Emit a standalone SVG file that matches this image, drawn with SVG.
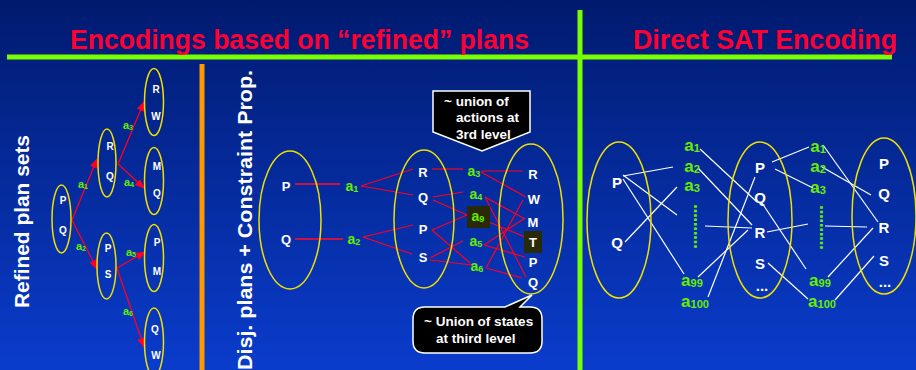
<svg xmlns="http://www.w3.org/2000/svg" width="916" height="370" viewBox="0 0 916 370">
<defs>
<linearGradient id="bg" x1="0" y1="0" x2="0" y2="1">
<stop offset="0" stop-color="#001a6e"/>
<stop offset="1" stop-color="#0a3ccc"/>
</linearGradient>
<marker id="ah" markerWidth="10" markerHeight="8" refX="9" refY="4" orient="auto" markerUnits="userSpaceOnUse">
<path d="M0,0 L10,4 L0,8 z" fill="#ff0022"/>
</marker>
<style>
text{font-family:"Liberation Sans",Arial,sans-serif;font-weight:bold}
.title{fill:#ff0033;font-size:27px}
.rot{fill:#ffffff;font-size:20px}
.ell{fill:none;stroke:#f0e000;stroke-width:1.5}
.n{fill:#ffffff;font-size:10px;text-anchor:middle;dominant-baseline:central}
.n2{fill:#ffffff;font-size:13px;text-anchor:middle;dominant-baseline:central}
.n3{fill:#ffffff;font-size:15px;text-anchor:middle;dominant-baseline:central}
.g{fill:#66ee00;font-size:11px;text-anchor:middle;dominant-baseline:central}
.g2{fill:#66ee00;font-size:14px;text-anchor:middle;dominant-baseline:central}
.g3{fill:#66ee00;font-size:17px;text-anchor:middle;dominant-baseline:central}
.dots{fill:#66ee00;font-size:18px}
.sub{font-size:0.65em}
.arr{stroke:#ff0022;stroke-width:1.3;fill:none;marker-end:url(#ah)}
.r{stroke:#ff0022;stroke-width:1.2;fill:none}
.rd{stroke:#cc1144;stroke-width:2;fill:none}
.w{stroke:#ffffff;stroke-width:1.2;fill:none}
.call{fill:#000000;stroke:#ffffff;stroke-width:1.5}
.ct{fill:#ffffff;font-size:13.5px}
</style>
</defs>
<rect x="0" y="0" width="916" height="370" fill="url(#bg)"/>

<g id="frame">
<line x1="7" y1="57" x2="892" y2="57" stroke="#77ff00" stroke-width="5"/>
<line x1="580" y1="10" x2="580" y2="370" stroke="#77ff00" stroke-width="5"/>
<line x1="202" y1="64" x2="202" y2="370" stroke="#ff9900" stroke-width="5"/>
<text class="title" x="70" y="49" textLength="459" lengthAdjust="spacingAndGlyphs">Encodings based on “refined” plans</text>
<text class="title" x="633" y="49" textLength="264" lengthAdjust="spacingAndGlyphs">Direct SAT Encoding</text>
<text class="rot" transform="translate(29,308) rotate(-90)" textLength="173" lengthAdjust="spacingAndGlyphs">Refined plan sets</text>
<text class="rot" transform="translate(252,370) rotate(-90)" textLength="300" lengthAdjust="spacingAndGlyphs">Disj.  plans + Constraint Prop.</text>
</g>

<!-- Left tree -->
<g id="connectors-tree">
<line class="arr" x1="72" y1="220" x2="97" y2="159"/>
<line class="arr" x1="72" y1="220" x2="97" y2="269"/>
<line class="arr" x1="118" y1="164" x2="144" y2="102"/>
<line class="arr" x1="118" y1="164" x2="144" y2="188"/>
<line class="arr" x1="117" y1="268" x2="145" y2="252"/>
<line class="arr" x1="117" y1="268" x2="144" y2="347"/>
<text class="g" x="83" y="184">a<tspan class="sub" dy="3">1</tspan></text>
<text class="g" x="81" y="246">a<tspan class="sub" dy="3">2</tspan></text>
<text class="g" x="128" y="125">a<tspan class="sub" dy="3">3</tspan></text>
<text class="g" x="129" y="182">a<tspan class="sub" dy="3">4</tspan></text>
<text class="g" x="131" y="252">a<tspan class="sub" dy="3">5</tspan></text>
<text class="g" x="128" y="311">a<tspan class="sub" dy="3">6</tspan></text>
</g>
<g id="t-root"><ellipse class="ell" cx="61.5" cy="219" rx="9.5" ry="34"/><text class="n" x="63" y="200">P</text><text class="n" x="63" y="230">Q</text></g>
<g id="t-rq"><ellipse class="ell" cx="107" cy="163" rx="9" ry="34"/><text class="n" x="110" y="146">R</text><text class="n" x="110" y="176">Q</text></g>
<g id="t-ps"><ellipse class="ell" cx="106.5" cy="266" rx="9.5" ry="33"/><text class="n" x="108" y="248">P</text><text class="n" x="108" y="274">S</text></g>
<g id="t-rw"><ellipse class="ell" cx="154" cy="102" rx="9.5" ry="33.5"/><text class="n" x="156" y="89">R</text><text class="n" x="156" y="116">W</text></g>
<g id="t-mq"><ellipse class="ell" cx="154" cy="181" rx="9.5" ry="33.5"/><text class="n" x="157" y="166">M</text><text class="n" x="157" y="193">Q</text></g>
<g id="t-pm"><ellipse class="ell" cx="154" cy="258" rx="9.5" ry="33.5"/><text class="n" x="157" y="242">P</text><text class="n" x="157" y="271">M</text></g>
<g id="t-qw"><ellipse class="ell" cx="154" cy="342" rx="9.5" ry="34"/><text class="n" x="155" y="329">Q</text><text class="n" x="156" y="355">W</text></g>

<!-- Middle section -->
<g id="connectors-mid">
<line class="rd" x1="295" y1="184" x2="340" y2="184"/>
<line class="rd" x1="295" y1="239" x2="343" y2="239"/>
<line class="r" x1="361" y1="186" x2="413" y2="169"/>
<line class="r" x1="361" y1="186" x2="413" y2="195"/>
<line class="r" x1="363" y1="237" x2="413" y2="225"/>
<line class="r" x1="363" y1="237" x2="412" y2="254"/>
<line class="r" x1="432" y1="169" x2="463" y2="169"/>
<line class="r" x1="433" y1="197" x2="463" y2="192"/>
<line class="r" x1="433" y1="200" x2="467" y2="215"/>
<line class="r" x1="432" y1="230" x2="467" y2="215"/>
<line class="r" x1="432" y1="230" x2="470" y2="263"/>
<line class="r" x1="430" y1="258" x2="463" y2="241"/>
<line class="r" x1="430" y1="260" x2="472" y2="265"/>
<line class="r" x1="481" y1="171" x2="523" y2="171"/>
<line class="r" x1="481" y1="172" x2="526" y2="197"/>
<line class="r" x1="485" y1="197" x2="525" y2="219"/>
<line class="r" x1="485" y1="197" x2="526" y2="277"/>
<line class="r" x1="484" y1="220" x2="525" y2="237"/>
<line class="r" x1="484" y1="245" x2="525" y2="218"/>
<line class="r" x1="484" y1="245" x2="525" y2="257"/>
<line class="r" x1="486" y1="268" x2="523" y2="200"/>
<line class="r" x1="486" y1="268" x2="522" y2="278"/>
<text class="g2" x="352" y="186">a<tspan class="sub" dy="3">1</tspan></text>
<text class="g2" x="354" y="239">a<tspan class="sub" dy="3">2</tspan></text>
<text class="g2" x="474" y="171">a<tspan class="sub" dy="3">3</tspan></text>
<text class="g2" x="476" y="194">a<tspan class="sub" dy="3">4</tspan></text>
<rect x="467" y="206" width="23" height="22" fill="#2a2a08"/>
<text class="g2" x="478" y="216">a<tspan class="sub" dy="3">9</tspan></text>
<text class="g2" x="476" y="241">a<tspan class="sub" dy="3">5</tspan></text>
<text class="g2" x="477" y="266">a<tspan class="sub" dy="3">6</tspan></text>
</g>
<g id="m-s1"><ellipse class="ell" cx="290" cy="220" rx="31" ry="69"/><text class="n2" x="286" y="186">P</text><text class="n2" x="286" y="239">Q</text></g>
<g id="m-s2"><ellipse class="ell" cx="424" cy="219" rx="30" ry="69"/><text class="n2" x="423" y="172">R</text><text class="n2" x="423" y="197">Q</text><text class="n2" x="423" y="229">P</text><text class="n2" x="423" y="257">S</text></g>
<g id="m-s3"><ellipse class="ell" cx="531" cy="219" rx="32" ry="75"/>
<rect x="524" y="231" width="18" height="22" fill="#2a2a08"/>
<text class="n2" x="533" y="174">R</text><text class="n2" x="534" y="199">W</text><text class="n2" x="533" y="222">M</text><text class="n2" x="533" y="242">T</text><text class="n2" x="533" y="262">P</text><text class="n2" x="533" y="282">Q</text></g>
<g id="callout-actions">
<path class="call" d="M433,91 L530,91 L530,132 L482,151 L433,132 Z"/>
<text class="ct" x="444" y="106">~ union of</text>
<text class="ct" x="456" y="122">actions at</text>
<text class="ct" x="456" y="139">3rd level</text>
</g>
<g id="callout-states">
<path class="call" d="M425,307 L505,307 L532,295 L520,307 L530,307 Q542,307 542,319 L542,341 Q542,353 530,353 L425,353 Q413,353 413,341 L413,319 Q413,307 425,307 Z"/>
<text class="ct" x="424" y="326">~ Union of states</text>
<text class="ct" x="436" y="343">at third level</text>
</g>

<!-- Right section -->
<g id="connectors-sat">
<line class="w" x1="623" y1="176" x2="673" y2="167"/>
<line class="w" x1="623" y1="175" x2="677" y2="215"/>
<line class="w" x1="623" y1="179" x2="684" y2="274"/>
<line class="w" x1="625" y1="242" x2="677" y2="187"/>
<line class="w" x1="700" y1="149" x2="757" y2="202"/>
<line class="w" x1="698" y1="168" x2="752" y2="225"/>
<line class="w" x1="705" y1="226" x2="752" y2="228"/>
<line class="w" x1="698" y1="277" x2="748" y2="230"/>
<line class="w" x1="708" y1="297" x2="755" y2="177"/>
<line class="w" x1="772" y1="162" x2="809" y2="147"/>
<line class="w" x1="775" y1="169" x2="813" y2="188"/>
<line class="w" x1="762" y1="203" x2="806" y2="269"/>
<line class="w" x1="767" y1="232" x2="808" y2="224"/>
<line class="w" x1="768" y1="263" x2="808" y2="299"/>
<line class="w" x1="823" y1="145" x2="878" y2="222"/>
<line class="w" x1="822" y1="167" x2="871" y2="195"/>
<line class="w" x1="825" y1="226" x2="867" y2="227"/>
<line class="w" x1="828" y1="277" x2="873" y2="228"/>
<line class="w" x1="835" y1="300" x2="874" y2="256"/>
<text class="g3" x="692" y="145">a<tspan class="sub" dy="3">1</tspan></text>
<text class="g3" x="692" y="166">a<tspan class="sub" dy="3">2</tspan></text>
<text class="g3" x="692" y="185">a<tspan class="sub" dy="3">3</tspan></text>
<text class="dots" transform="translate(694,204) rotate(90)" x="0" y="5.5" textLength="46" lengthAdjust="spacing">··········</text>
<text class="g3" x="692" y="280">a<tspan class="sub" dy="3">99</tspan></text>
<text class="g3" x="695" y="301">a<tspan class="sub" dy="3">100</tspan></text>
<text class="g3" x="818" y="146">a<tspan class="sub" dy="3">1</tspan></text>
<text class="g3" x="818" y="166">a<tspan class="sub" dy="3">2</tspan></text>
<text class="g3" x="818" y="187">a<tspan class="sub" dy="3">3</tspan></text>
<text class="dots" transform="translate(820,205) rotate(90)" x="0" y="5.5" textLength="46" lengthAdjust="spacing">··········</text>
<text class="g3" x="820" y="280">a<tspan class="sub" dy="3">99</tspan></text>
<text class="g3" x="822" y="301">a<tspan class="sub" dy="3">100</tspan></text>
</g>
<g id="s-1"><ellipse class="ell" cx="619" cy="220" rx="32" ry="78"/><text class="n3" x="617" y="182">P</text><text class="n3" x="617" y="242">Q</text></g>
<g id="s-2"><ellipse class="ell" cx="760" cy="220" rx="32" ry="78"/><text class="n3" x="760" y="167">P</text><text class="n3" x="760" y="197">Q</text><text class="n3" x="760" y="232">R</text><text class="n3" x="760" y="263">S</text><text class="n3" x="762" y="285">...</text></g>
<g id="s-3"><ellipse class="ell" cx="884" cy="216" rx="32" ry="78"/><text class="n3" x="884" y="163">P</text><text class="n3" x="884" y="193">Q</text><text class="n3" x="884" y="227">R</text><text class="n3" x="884" y="260">S</text><text class="n3" x="885" y="281">...</text></g>
</svg>
